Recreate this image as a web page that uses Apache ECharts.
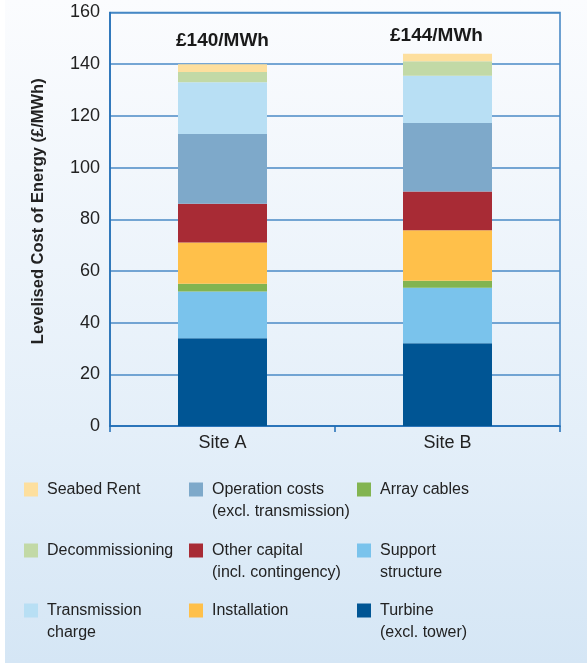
<!DOCTYPE html>
<html>
<head>
<meta charset="utf-8">
<script src="https://cdn.jsdelivr.net/npm/echarts@6/dist/echarts.min.js"></script>
<style>
  html, body { margin: 0; padding: 0; background: #fff; }
  #chart { width: 587px; height: 667px; }
</style>
</head>
<body>
<div id="chart"></div>
<script>
// categories and totals
var sites = ['Site A', 'Site B'];
var totalLabels = ['£140/MWh', '£144/MWh'];

// cost components, bottom of the stack first (£/MWh)
var turbine = [34, 32];
var supportStructure = [18, 21.5];
var arrayCables = [3, 2.7];
var installation = [16, 19.5];
var otherCapital = [15, 15];
var operationCosts = [27, 26.5];
var transmissionCharge = [20, 18.3];
var decommissioning = [4, 5.6];
var seabedRent = [3, 2.9];

var yTicks = [0, 20, 40, 60, 80, 100, 120, 140, 160];

var N_TURBINE = 'Turbine\n(excl. tower)';
var N_SUPPORT = 'Support\nstructure';
var N_ARRAY = 'Array cables';
var N_INSTALL = 'Installation';
var N_OTHER = 'Other capital\n(incl. contingency)';
var N_OPER = 'Operation costs\n(excl. transmission)';
var N_TRANS = 'Transmission\ncharge';
var N_DECOM = 'Decommissioning';
var N_SEABED = 'Seabed Rent';

var stack = [
  { name: N_TURBINE, data: turbine, color: '#005594' },
  { name: N_SUPPORT, data: supportStructure, color: '#7ac3ec' },
  { name: N_ARRAY, data: arrayCables, color: '#82b451' },
  { name: N_INSTALL, data: installation, color: '#ffc04a' },
  { name: N_OTHER, data: otherCapital, color: '#a82b35' },
  { name: N_OPER, data: operationCosts, color: '#7ea9ca' },
  { name: N_TRANS, data: transmissionCharge, color: '#b8dff4' },
  { name: N_DECOM, data: decommissioning, color: '#c2d9a6' },
  { name: N_SEABED, data: seabedRent, color: '#fddf9e' }
];

// legend grid: 3 columns x 3 rows
var legendCols = [24, 189, 357];
var legendRows = [489.5, 550.5, 610.5];
var legendOrder = [
  [N_SEABED, N_OPER, N_ARRAY],
  [N_DECOM, N_OTHER, N_SUPPORT],
  [N_TRANS, N_INSTALL, N_TURBINE]
];

var LH = 22;
var FONT = 'Liberation Sans, Arial, sans-serif';

// one legend per entry; two-line names get an empty first line so the
// (vertically centred) icon lines up with the first real line
var legends = [];
legendOrder.forEach(function (row, r) {
  row.forEach(function (name, c) {
    var twoLines = name.indexOf('\n') >= 0;
    legends.push({
      left: legendCols[c],
      top: legendRows[r] - (twoLines ? 1.5 * LH : LH / 2),
      padding: 0,
      itemWidth: 14,
      itemHeight: 14,
      icon: 'rect',
      selectedMode: false,
      formatter: twoLines ? '\n{name}' : '{name}',
      textStyle: {
        fontFamily: FONT, fontSize: 16, color: '#222', lineHeight: LH,
        padding: [0, 0, 0, 4]
      },
      data: [name]
    });
  });
});

var series = stack.map(function (s, idx) {
  var item = {
    name: s.name,
    type: 'bar',
    stack: 'cost',
    barWidth: 89,
    itemStyle: { color: s.color },
    emphasis: { disabled: true },
    data: s.data
  };
  if (idx === stack.length - 1) {
    item.data = s.data.map(function (v, i) {
      return { value: v, label: { offset: i === 1 ? [-11, 5] : [0, 0] } };
    });
    item.label = {
      show: true,
      position: 'top',
      distance: 14,
      fontFamily: FONT,
      fontSize: 19,
      fontWeight: 'bold',
      color: '#1a1a1a',
      formatter: function (p) { return totalLabels[p.dataIndex]; }
    };
  }
  return item;
});

var chart = echarts.init(document.getElementById('chart'), null, { renderer: 'canvas' });

chart.setOption({
  backgroundColor: '#ffffff',
  animation: false,
  graphic: [{
    type: 'rect',
    z: -100,
    silent: true,
    shape: { x: 5, y: 0, width: 582, height: 663 },
    style: {
      fill: new echarts.graphic.LinearGradient(0, 0, 0, 1, [
        { offset: 0, color: '#fbfcfe' },
        { offset: 0.65, color: '#e4eff9' },
        { offset: 1, color: '#d5e6f5' }
      ])
    }
  }],
  grid: {
    left: 110, right: 27, top: 12.5, bottom: 241,
    outerBoundsMode: 'none',
    show: true,
    borderColor: '#3f83c2',
    borderWidth: 1.5,
    backgroundColor: 'transparent'
  },
  legend: legends,
  xAxis: {
    type: 'category',
    data: sites,
    axisLine: { lineStyle: { color: '#1f6db5', width: 1.5 } },
    axisTick: { show: true, length: 6, lineStyle: { color: '#1f6db5', width: 1.5 } },
    axisLabel: { fontFamily: FONT, fontSize: 18, color: '#222', margin: 8 }
  },
  yAxis: {
    type: 'value',
    min: yTicks[0],
    max: yTicks[yTicks.length - 1],
    interval: yTicks[1] - yTicks[0],
    name: 'Levelised Cost of Energy (£/MWh)',
    nameLocation: 'middle',
    nameRotate: 90,
    nameGap: 63,
    nameTextStyle: {
      fontFamily: FONT, fontSize: 16.5, fontWeight: 'bold', color: '#222',
      padding: [0, 0, 0, 16]
    },
    axisLine: { show: true, lineStyle: { color: '#1f6db5', width: 1.5 } },
    axisTick: { show: false },
    axisLabel: { fontFamily: FONT, fontSize: 18, color: '#222', margin: 10 },
    splitLine: { lineStyle: { color: '#4a8ac6', width: 1.5 } }
  },
  series: series
});
</script>
</body>
</html>
